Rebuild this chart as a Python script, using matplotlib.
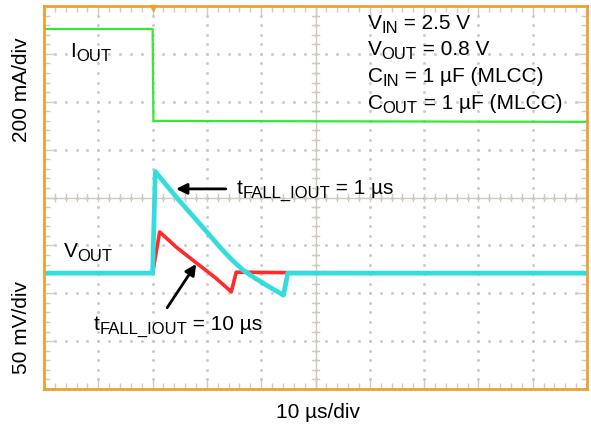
import matplotlib
matplotlib.use("Agg")
import matplotlib.pyplot as plt
import numpy as np

plt.rcParams['font.family'] = ['Liberation Sans', 'DejaVu Sans']

# time in us (10 us/div, trigger at t = 0), amplitudes in screen divisions
t_iout = [-20, 0.0, 0.15, 40, 80]
iout_div = [7.52, 7.52, 5.60, 5.59, 5.58]

t_vout_1us = [-20, 0.0, 0.5, 2.6, 4.8, 7.6, 10.3, 12.5, 14.5, 16.7, 18.8, 20.8, 24.1, 24.9, 80]
vout_1us_div = [2.42, 2.42, 4.54, 4.25, 3.95, 3.59, 3.24, 2.95, 2.71, 2.48, 2.32, 2.18, 1.96, 2.42, 2.42]

t_vout_10us = [-20, 0.0, 1.3, 4.5, 8.1, 11.5, 14.5, 15.4, 25.0, 80]
vout_10us_div = [2.42, 2.42, 3.28, 2.95, 2.63, 2.33, 2.03, 2.44, 2.43, 2.42]

# (symbol, subscript, rest of line)
conditions = [('V', 'IN', ' = 2.5 V'),
              ('V', 'OUT', ' = 0.8 V'),
              ('C', 'IN', ' = 1 µF (MLCC)'),
              ('C', 'OUT', ' = 1 µF (MLCC)')]

frame = '#f0a030'
grid_c = '#cfcbc2'
fs = 15


def sub_label(ax, x, y, main, sub, rest=''):
    # main symbol, lowered subscript at 80 % size, then the rest on the main baseline
    t0 = ax.text(x, y, main, fontsize=fs, va='baseline')
    t1 = ax.annotate(sub, xy=(1, 0), xycoords=t0, fontsize=fs * 0.8, va='baseline')
    if rest:
        ax.annotate(rest, xy=(1, 0), xycoords=(t1, t0), fontsize=fs, va='bottom')


fig = plt.figure(figsize=(5.91, 4.25), dpi=100)
ax = fig.add_axes([44/591, 36/425, 543/591, 383/425])
ax.set_xlim(-20, 80)
ax.set_ylim(0, 8)

# dotted graticule
for gx in np.arange(-10, 80, 10):
    ys = np.arange(0.2, 8, 0.2)
    ax.plot(np.full_like(ys, gx), ys, ls='none', marker='s', ms=1.0, color=grid_c, zorder=1)
for gy in np.arange(1, 8, 1):
    xs = np.arange(-18, 80, 2)
    ax.plot(xs, np.full_like(xs, gy, dtype=float), ls='none', marker='s', ms=1.0, color=grid_c, zorder=1)

# center cross with tick marks
ax.axvline(30, color=grid_c, lw=1, zorder=1)
ax.axhline(4, color=grid_c, lw=1, zorder=1)
for tx in np.arange(-18, 80, 2):
    ax.plot([tx, tx], [3.93, 4.07], color=grid_c, lw=1, zorder=1)
for ty in np.arange(0.2, 8, 0.2):
    ax.plot([29.3, 30.7], [ty, ty], color=grid_c, lw=1, zorder=1)

# edge ticks
ax.set_xticks(np.arange(-20, 81, 10))
ax.set_xticks(np.arange(-20, 81, 2), minor=True)
ax.set_yticks(np.arange(0, 9, 1))
ax.set_yticks(np.arange(0, 8.01, 0.2), minor=True)
ax.tick_params(which='both', direction='in', top=True, right=True,
               labelbottom=False, labelleft=False, color=grid_c, width=1)
ax.tick_params(which='major', length=8)
ax.tick_params(which='minor', length=4)
for s in ax.spines.values():
    s.set_color(frame)
    s.set_linewidth(2)
    s.set_zorder(5)

# traces
ax.plot(t_iout, iout_div, color='#38e638', lw=1.6, zorder=3)
ax.plot(t_vout_10us, vout_10us_div, color='#ff2a2a', lw=2.6, zorder=3)
ax.plot(t_vout_1us, vout_1us_div, color='#33dddd', lw=3.4, zorder=4)

# trigger marker
ax.plot(0, 7.96, marker='v', ms=5, color=frame, clip_on=False, zorder=6)

sub_label(ax, -15.1, 6.93, 'I', 'OUT')
sub_label(ax, -16.4, 2.76, 'V', 'OUT')
for i, (m, s, r) in enumerate(conditions):
    sub_label(ax, 39.6, 7.53 - i * 0.557, m, s, r)

ax.annotate('', xy=(3.8, 4.18), xytext=(14.0, 4.18),
            arrowprops=dict(arrowstyle='-|>', lw=2, color='black', mutation_scale=16))
sub_label(ax, 15.5, 4.08, 't', 'FALL_IOUT', ' = 1 µs')
ax.annotate('', xy=(8.3, 2.66), xytext=(2.4, 1.65),
            arrowprops=dict(arrowstyle='-|>', lw=2, color='black', mutation_scale=16))
sub_label(ax, -10.9, 1.23, 't', 'FALL_IOUT', ' = 10 µs')

fig.text(22/591, 1 - 90/425, '200 mA/div', rotation=90, fontsize=fs, ha='center', va='center')
fig.text(22/591, 1 - 328/425, '50 mV/div', rotation=90, fontsize=fs, ha='center', va='center')
fig.text(318/591, 1 - 413/425, '10 µs/div', fontsize=fs, ha='center', va='center')

fig.savefig('out.png', dpi=100)
